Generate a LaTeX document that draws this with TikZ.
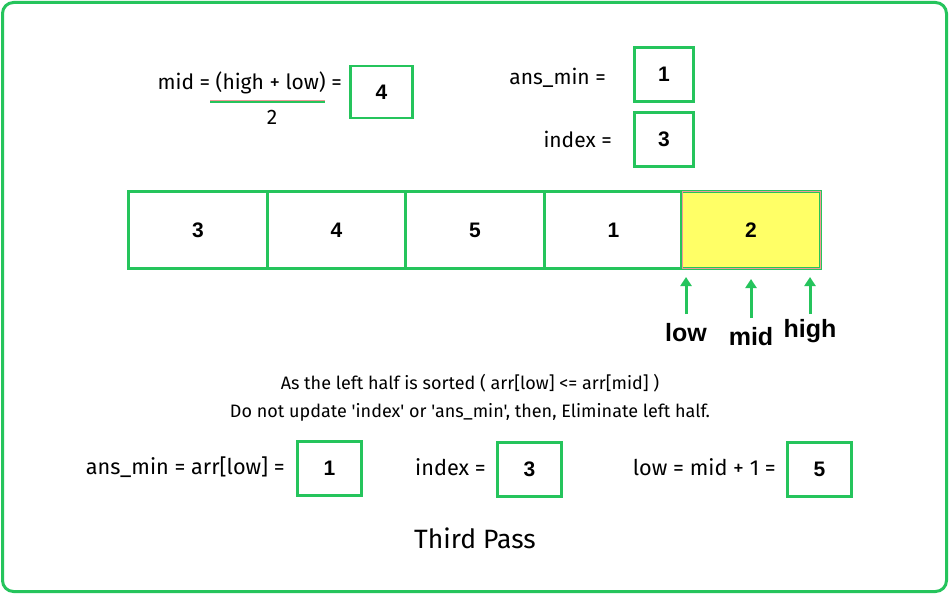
\documentclass[tikz,border=0pt]{standalone}
\usepackage{fontspec}
\setmainfont{Fira Sans}[Ligatures=TeXOff]
\newfontfamily\boldfont{Liberation Sans}
\usetikzlibrary{arrows.meta,calc}
\definecolor{grn}{RGB}{37,196,92}
\definecolor{yel}{RGB}{255,255,102}
\definecolor{pinkline}{RGB}{240,150,150}
\tikzset{
  valbox/.style={draw=grn, line width=2.6pt, minimum width=62pt, minimum height=52pt, inner sep=0pt, font=\boldfont\bfseries\fontsize{21}{24}\selectfont},
  cell/.style={draw=grn, line width=2.6pt, minimum width=138.5pt, minimum height=77pt, inner sep=0pt, font=\boldfont\bfseries\fontsize{21}{24}\selectfont},
  lbl/.style={inner sep=0pt, font=\fontsize{21}{24}\selectfont},
  lblb/.style={inner sep=0pt, font=\fontsize{21.7}{24}\selectfont},
  desc/.style={inner sep=0pt, font=\fontsize{18}{21}\selectfont},
  ptr/.style={inner sep=0pt, font=\boldfont\bfseries\fontsize{25}{29}\selectfont},
  uparrow/.style={draw=grn, line width=3pt, -{Triangle[length=9pt,width=11pt]}}
}
\begin{document}
\begin{tikzpicture}[x=1pt,y=-1pt]
\useasboundingbox (0,0) rectangle (949,594);
\fill[white] (0,0) rectangle (949,594);
\draw[grn, line width=3pt, rounded corners=11pt] (2.5,2.5) rectangle (946.5,591.5);
% mid formula
\node[lbl, anchor=east] (midtxt) at (342,83) {mid = (high + low) =};
\fill[pinkline] (210,99.5) rectangle (325,101);
\fill[grn] (210,101) rectangle (325,103);
\node[lbl] (two) at (272,117) {2};
\node[valbox] (midv) at (381.5,92) {4};
% ans_min / index top
\node[lbl, anchor=east] (anstxt) at (606,78) {ans\_min =};
\node[valbox, minimum width=59pt, minimum height=54pt] (ansv) at (664,74.5) {1};
\node[lbl, anchor=east] (idxtxt) at (612,139) {index =};
\node[valbox, minimum width=59pt, minimum height=54pt] (idxv) at (664,139.5) {3};
% array
\node[cell] (c0) at (198,230) {3};
\node[cell] (c1) at (336.5,230) {4};
\node[cell] (c2) at (475,230) {5};
\node[cell] (c3) at (613.5,230) {1};
\node[cell, fill=yel] (c4) at (751,230) {2};
\draw[pinkline, line width=0.8pt] ($(c4.north west)+(1.5,1.5)$) rectangle ($(c4.south east)+(-1.5,-1.5)$);
% pointers
\node[ptr] (lowl) at (686,333) {low};
\node[ptr] (midl) at (751,337) {mid};
\node[ptr] (highl) at (810,331) {high};
\coordinate (lowt) at (686,277);
\coordinate (midt) at (751,279);
\coordinate (hight) at (810,277);
\draw[uparrow] (686,314) -- (lowt);
\draw[uparrow] (751,318) -- (midt);
\draw[uparrow] (810,314) -- (hight);
% description
\node[desc] (d1) at (470,383) {As the left half is sorted ( arr[low] <= arr[mid] )};
\node[desc] (d2) at (470,412) {Do not update 'index' or 'ans\_min', then, Eliminate left half.};
% bottom row
\node[lblb, anchor=east] (b1t) at (285,467) {ans\_min = arr[low] =};
\node[valbox, minimum width=64pt, minimum height=54pt] (b1v) at (329.5,468.5) {1};
\node[lblb, anchor=east] (b2t) at (486,467) {index =};
\node[valbox, minimum width=64pt, minimum height=54pt] (b2v) at (529.5,469.5) {3};
\node[lblb, anchor=east] (b3t) at (776,467) {low = mid + 1 =};
\node[valbox, minimum width=64pt, minimum height=54pt] (b3v) at (819.5,469.5) {5};
% title
\node[inner sep=0pt, font=\fontsize{26.5}{31}\selectfont] (title) at (475,538) {Third Pass};
\end{tikzpicture}
\end{document}
